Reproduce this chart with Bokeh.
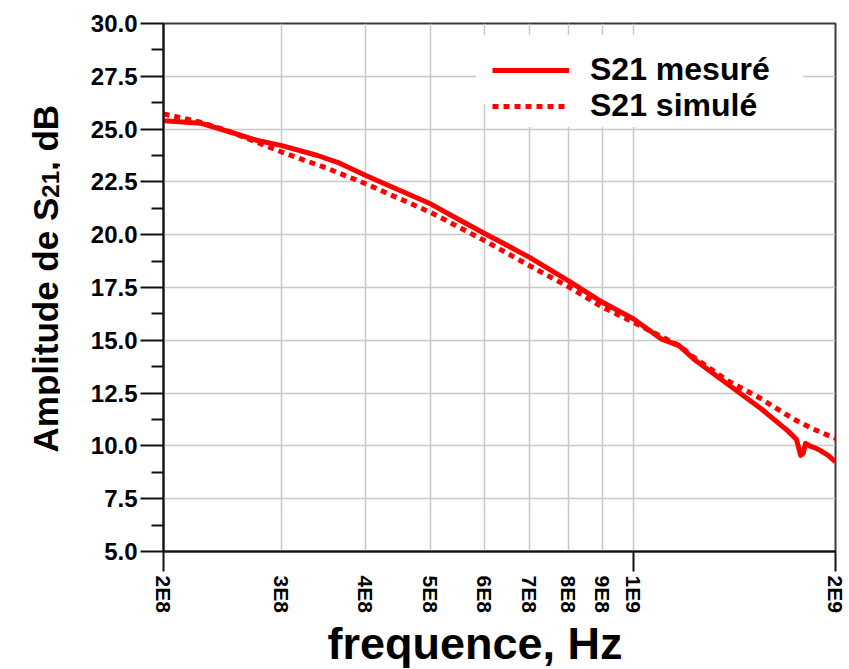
import math
from bokeh.plotting import figure
from bokeh.layouts import row
from bokeh.models import (FixedTicker, Legend, LegendItem, Title,
                          CustomJSTickFormatter, PrintfTickFormatter)
from bokeh.core.properties import value
from bokeh.embed import file_html
from bokeh.resources import INLINE

# ---------------- data ----------------
freq_meas = [2.0e8, 2.27e8, 2.52e8, 2.76e8, 3.0e8, 3.39e8, 3.63e8, 4.0e8, 4.56e8,
             5.0e8, 5.5e8, 6.0e8, 7.0e8, 8.0e8, 9.0e8, 1.0e9, 1.1e9, 1.17e9,
             1.23e9, 1.38e9, 1.55e9, 1.70e9, 1.75e9, 1.775e9, 1.79e9, 1.805e9,
             1.83e9, 1.86e9, 1.90e9, 1.95e9, 2.0e9]
s21_meas = [25.40, 25.28, 24.85, 24.46, 24.22, 23.75, 23.43, 22.80, 22.01,
            21.45, 20.72, 20.07, 18.94, 17.83, 16.80, 16.02, 15.07, 14.75,
            14.12, 12.94, 11.76, 10.70, 10.30, 9.55, 9.65, 10.12,
            10.00, 9.92, 9.78, 9.55, 9.25]

freq_sim = [2.0e8, 2.27e8, 2.5e8, 3.0e8, 3.5e8, 4.0e8, 5.0e8, 6.0e8, 7.0e8,
            8.0e8, 9.0e8, 1.0e9, 1.17e9, 1.23e9, 1.38e9, 1.55e9, 1.73e9,
            1.85e9, 2.0e9]
s21_sim = [25.72, 25.33, 24.90, 23.91, 23.15, 22.41, 21.05, 19.73, 18.54,
           17.55, 16.57, 15.86, 14.75, 14.20, 13.10, 12.23, 11.28,
           10.81, 10.35]

x_ticks = [2e8, 3e8, 4e8, 5e8, 6e8, 7e8, 8e8, 9e8, 1e9, 2e9]
x_tick_labels = ["2E8", "3E8", "4E8", "5E8", "6E8", "7E8", "8E8", "9E8", "1E9", "2E9"]
x_long_ticks = [2e8, 1e9, 2e9]
y_ticks = [5.0, 7.5, 10.0, 12.5, 15.0, 17.5, 20.0, 22.5, 25.0, 27.5, 30.0]
y_minor_ticks = [6.25, 8.75, 11.25, 13.75, 16.25, 18.75, 21.25, 23.75, 26.25, 28.75]
legend_labels = ["S21 mesuré", "S21 simulé"]
x_title = "frequence, Hz"
y_title_parts = ["Amplitude de S", "21", ", dB"]

# ---------------- layout ----------------
X_START, X_END = 2e8, 2e9
Y_START, Y_END = 5.0, 30.0
TOTAL_W, H = 848, 669
LW = 60                                   # width of the strip holding the y title
FRAME_L, FRAME_R, FRAME_T, FRAME_B = 163, 835, 23, 551   # page pixels
FONT = "Liberation Sans"
RED = "#ff0000"
MW = TOTAL_W - LW

p = figure(width=MW, height=H, x_axis_type="log",
           x_range=(X_START, X_END), y_range=(Y_START, Y_END),
           output_backend="svg", toolbar_location=None,
           min_border_left=FRAME_L - LW, min_border_right=TOTAL_W - FRAME_R,
           min_border_top=FRAME_T, min_border_bottom=H - FRAME_B)
p.frame_align = False
p.background_fill_color = "white"
p.border_fill_color = "white"
p.outline_line_color = "#3a3a3a"
p.outline_line_width = 2

# x axis
p.xaxis.ticker = FixedTicker(ticks=x_ticks, minor_ticks=x_long_ticks)
p.xaxis.formatter = CustomJSTickFormatter(
    args=dict(vals=x_ticks, labs=x_tick_labels),
    code="""
    for (let i = 0; i < vals.length; i++) {
        if (Math.abs(vals[i] - tick) / vals[i] < 1e-6) { return labs[i]; }
    }
    return '';
    """)
p.xaxis.major_tick_out = 0
p.xaxis.major_tick_in = 0
p.xaxis.minor_tick_out = 20
p.xaxis.minor_tick_in = 0
p.xaxis.minor_tick_line_width = 2
p.xaxis.minor_tick_line_color = "#111111"
p.xaxis.major_label_orientation = -math.pi / 2
p.xaxis.major_label_standoff = 4
p.xaxis.axis_line_width = 2
p.xaxis.axis_line_color = "#111111"
p.xaxis.major_label_text_font_size = "21px"

# y axis
p.yaxis.ticker = FixedTicker(ticks=y_ticks, minor_ticks=y_minor_ticks)
p.yaxis.formatter = PrintfTickFormatter(format="%.1f")
p.yaxis.major_tick_out = 23
p.yaxis.major_tick_in = 0
p.yaxis.minor_tick_out = 12
p.yaxis.minor_tick_in = 0
p.yaxis.major_tick_line_width = 2
p.yaxis.minor_tick_line_width = 2
p.yaxis.major_tick_line_color = "#111111"
p.yaxis.minor_tick_line_color = "#111111"
p.yaxis.major_label_standoff = 3
p.yaxis.axis_line_width = 2
p.yaxis.axis_line_color = "#111111"
p.yaxis.major_label_text_font_size = "24px"

for ax in (p.xaxis, p.yaxis):
    ax.major_label_text_font = FONT
    ax.major_label_text_font_style = "bold"
    ax.major_label_text_color = "black"

p.xgrid.grid_line_color = "#c8c8c8"
p.xgrid.grid_line_width = 1.5
p.ygrid.grid_line_color = "#c8c8c8"
p.ygrid.grid_line_width = 1.5

# curves
r_meas = p.line(freq_meas, s21_meas, line_color=RED, line_width=5, line_join="round")
r_sim = p.line(freq_sim, s21_sim, line_color=RED, line_width=5, line_dash="6 5")

# one legend box per entry, so that each row sits where the reference has it
legend_specs = [(r_meas, legend_labels[0], (313, 447), 16, 197),
                (r_sim, legend_labels[1], (326, 424), 3, 210)]
for rend, lab, loc, pad, lw in legend_specs:
    lg = Legend(items=[LegendItem(label=lab, renderers=[rend])], location=loc)
    lg.label_text_font = FONT
    lg.label_text_font_style = "bold"
    lg.label_text_font_size = "32px"
    lg.label_text_color = "black"
    lg.glyph_width = 77
    lg.glyph_height = 30
    lg.label_standoff = 21
    lg.label_width = lw
    lg.padding = pad
    lg.spacing = 0
    lg.margin = 0
    lg.border_line_alpha = 0
    lg.background_fill_color = "white"
    lg.background_fill_alpha = 1
    p.add_layout(lg)

# x title, below the tick labels
xt = Title(text=x_title, align="left", offset=327 - FRAME_L, standoff=0,
           text_font=FONT, text_font_style="bold", text_font_size="45px",
           text_color="black", vertical_align="bottom")
p.add_layout(xt, "below")

# ---------------- strip on the left with the y title ----------------
pl = figure(width=LW, height=H, x_range=(0, LW), y_range=(0, H),
            output_backend="svg", toolbar_location=None,
            x_axis_location=None, y_axis_location=None,
            min_border=0, min_border_left=0, min_border_right=0,
            min_border_top=0, min_border_bottom=0)
pl.frame_align = False
pl.outline_line_color = None
pl.background_fill_color = "white"
pl.border_fill_color = "white"
pl.xgrid.visible = False
pl.ygrid.visible = False

starts = [452, 452 - 254.8, 452 - 254.8 - 26.7]   # page y where each part begins
bases = [45, 50, 45]                               # page x of each part's baseline
sizes = ["35px", "24px", "35px"]
for part, st, bx, sz in zip(y_title_parts, starts, bases, sizes):
    pl.text(x=[bx], y=[H - st], text=[part], angle=math.pi / 2,
            text_align="left", text_baseline="alphabetic",
            text_font=value(FONT), text_font_style="bold",
            text_font_size=sz, text_color="black")

layout = row(pl, p)
open("out.html", "w").write(file_html(layout, INLINE))
